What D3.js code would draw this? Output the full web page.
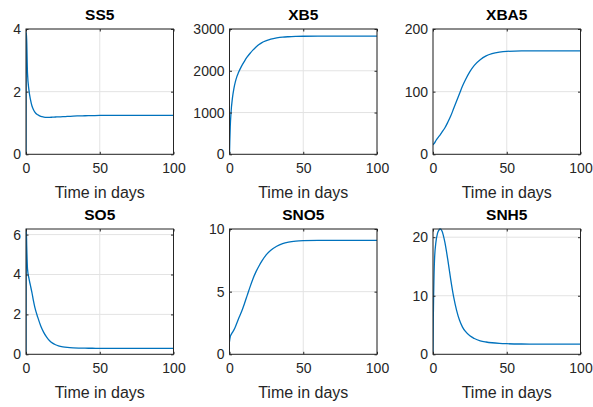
<!DOCTYPE html>
<html>
<head>
<meta charset="utf-8">
<script src="https://cdn.jsdelivr.net/npm/d3@7/dist/d3.min.js"></script>
<style>
  html, body { margin: 0; padding: 0; background: #fff; }
  svg { display: block; font-family: "Liberation Sans", Arial, Helvetica, sans-serif; }
</style>
</head>
<body>
<svg id="chart" width="593" height="407"></svg>
<script>
// Simulation time grid (days)
const days = [0, 0.2, 0.5, 1, 2, 3, 4, 5, 6, 8, 10, 12, 14, 16, 18, 20, 22, 25, 28, 32, 36, 40, 45, 50, 60, 70, 80, 100];

// State variables of reactor 5
const SS5  = [0, 3.9, 3.6, 2.6, 2.05, 1.75, 1.55, 1.43, 1.35, 1.26, 1.21, 1.19, 1.18, 1.18, 1.185, 1.19, 1.195, 1.2, 1.21, 1.22, 1.225, 1.23, 1.235, 1.24, 1.24, 1.24, 1.24, 1.24];
const XB5  = [0, 300, 650, 980, 1350, 1580, 1740, 1860, 1950, 2100, 2220, 2330, 2420, 2500, 2570, 2630, 2675, 2720, 2755, 2785, 2805, 2815, 2822, 2826, 2830, 2830, 2830, 2830];
const XBA5 = [15, 15.5, 16.5, 18, 22, 25.5, 28.5, 31.5, 35, 42, 51, 61, 73, 85, 97, 109, 119, 132, 142, 151, 157, 160.5, 163, 164.3, 165, 165, 165, 165];
const SO5  = [0, 6.28, 5.4, 4.3, 3.8, 3.45, 3.1, 2.7, 2.35, 1.85, 1.42, 1.1, 0.86, 0.68, 0.56, 0.48, 0.425, 0.375, 0.345, 0.323, 0.312, 0.306, 0.303, 0.3, 0.3, 0.3, 0.3, 0.3];
const SNO5 = [1.0, 1.2, 1.4, 1.55, 1.75, 1.95, 2.2, 2.5, 2.8, 3.35, 4.0, 4.7, 5.4, 6.05, 6.6, 7.05, 7.45, 7.95, 8.3, 8.62, 8.83, 8.95, 9.03, 9.07, 9.1, 9.1, 9.1, 9.1];
const SNH5 = [0, 6, 11, 16, 19.2, 20.6, 21.2, 21.4, 21.1, 19.2, 16.2, 12.8, 9.8, 7.5, 5.8, 4.65, 3.9, 3.15, 2.7, 2.3, 2.1, 1.97, 1.87, 1.81, 1.76, 1.75, 1.75, 1.75];

// Panel titles, y limits and y ticks
const titles   = ["SS5", "XB5", "XBA5", "SO5", "SNO5", "SNH5"];
const series   = [SS5, XB5, XBA5, SO5, SNO5, SNH5];
const yLimits  = [[0, 4], [0, 3000], [0, 200], [0, 6.28], [0, 10], [0, 21.4]];
const yTicks   = [[0, 2, 4], [0, 1000, 2000, 3000], [0, 100, 200], [0, 2, 4, 6], [0, 5, 10], [0, 10, 20]];
const xTicks   = [0, 50, 100];
const xLabel   = "Time in days";

const svg = d3.select("#chart");
const colLeft = [26, 229.5, 433];
const rowTop = [29, 229];
const pw = 147.5, ph = 125.3;
const axisColor = "#262626";
const tickLen = 2.5;

series.forEach((vals, i) => {
  const left = colLeft[i % 3], top = rowTop[Math.floor(i / 3)];
  const g = svg.append("g").attr("transform", `translate(${left},${top})`);
  const x = d3.scaleLinear().domain([0, 100]).range([0, pw]);
  const y = d3.scaleLinear().domain(yLimits[i]).range([ph, 0]);

  // grid
  g.append("g").selectAll("line.gx").data(xTicks).join("line")
    .attr("x1", d => x(d)).attr("x2", d => x(d)).attr("y1", 0).attr("y2", ph)
    .attr("stroke", "#e3e3e3").attr("stroke-width", 1);
  g.append("g").selectAll("line.gy").data(yTicks[i]).join("line")
    .attr("x1", 0).attr("x2", pw).attr("y1", d => y(d)).attr("y2", d => y(d))
    .attr("stroke", "#e3e3e3").attr("stroke-width", 1);

  // clip and data line
  const clipId = "clip" + i;
  g.append("clipPath").attr("id", clipId).append("rect")
    .attr("x", 0).attr("y", -1).attr("width", pw).attr("height", ph + 1);
  const line = d3.line().x((d, k) => x(days[k])).y(d => y(d)).curve(d3.curveMonotoneX);
  g.append("path").datum(vals)
    .attr("clip-path", `url(#${clipId})`)
    .attr("d", line).attr("fill", "none")
    .attr("stroke", "#0072BD").attr("stroke-width", 1.3);

  // axes: bottom/left with labels, top/right mirrored ticks only
  const fmt = d3.format("d");
  const bottom = g.append("g").attr("transform", `translate(0,${ph})`)
    .call(d3.axisBottom(x).tickValues(xTicks).tickSizeInner(-tickLen).tickSizeOuter(0).tickPadding(9).tickFormat(fmt));
  const leftAx = g.append("g")
    .call(d3.axisLeft(y).tickValues(yTicks[i]).tickSizeInner(-tickLen).tickSizeOuter(0).tickPadding(5).tickFormat(fmt));
  const topAx = g.append("g")
    .call(d3.axisTop(x).tickValues(xTicks).tickSizeInner(-tickLen).tickSizeOuter(0).tickFormat(""));
  const rightAx = g.append("g").attr("transform", `translate(${pw},0)`)
    .call(d3.axisRight(y).tickValues(yTicks[i]).tickSizeInner(-tickLen).tickSizeOuter(0).tickFormat(""));
  [bottom, leftAx, topAx, rightAx].forEach(a => {
    a.select(".domain").remove();
    a.selectAll(".tick line").attr("stroke", axisColor).attr("stroke-width", 1);
    a.selectAll(".tick text").attr("fill", axisColor).attr("font-size", 14).attr("font-family", null);
  });

  // box
  g.append("rect").attr("x", 0).attr("y", 0).attr("width", pw).attr("height", ph)
    .attr("fill", "none").attr("stroke", axisColor).attr("stroke-width", 1);

  // title and x label
  g.append("text").attr("x", pw / 2).attr("y", -9.5).attr("text-anchor", "middle")
    .attr("font-size", 15.5).attr("font-weight", "bold").attr("fill", "#000").text(titles[i]);
  g.append("text").attr("x", pw / 2).attr("y", ph + 43.5).attr("text-anchor", "middle")
    .attr("font-size", 16).attr("fill", axisColor).text(xLabel);
});
</script>
</body>
</html>
